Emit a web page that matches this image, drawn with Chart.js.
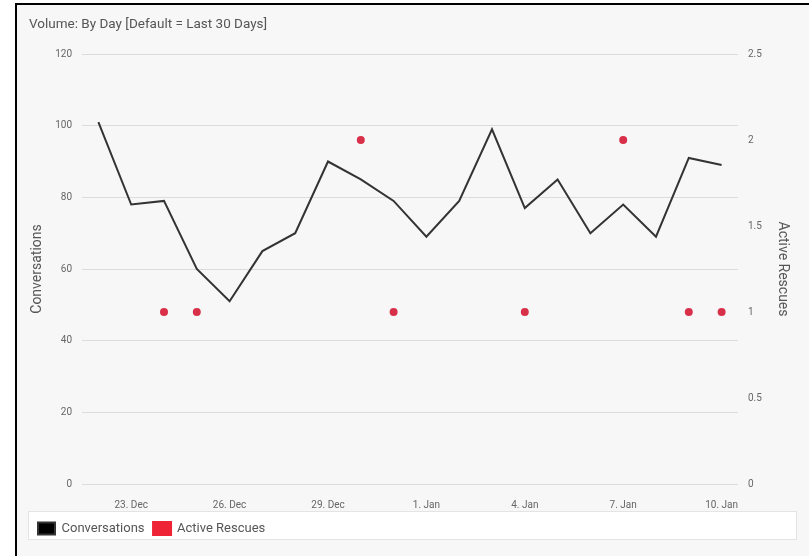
<!DOCTYPE html>
<html>
<head>
<meta charset="utf-8">
<title>Volume: By Day</title>
<script src="https://cdn.jsdelivr.net/npm/chart.js@4.4.0/dist/chart.umd.min.js"></script>
<style>
  html, body { margin: 0; padding: 0; background: #fff; }
  #panel {
    position: absolute; left: 15px; top: 3px; width: 792px; height: 553px;
    border-left: 2px solid #000; border-top: 2px solid #000; background: #f7f7f7;
  }
  #wrap { position: absolute; left: 0; top: 0; width: 809px; height: 556px; }
</style>
</head>
<body>
<div id="panel"></div>
<div id="wrap"><canvas id="volumeChart"></canvas></div>
<script>
// days shown on the x axis (one point per day)
const days = [
  '22. Dec', '23. Dec', '24. Dec', '25. Dec', '26. Dec', '27. Dec', '28. Dec',
  '29. Dec', '30. Dec', '31. Dec', '1. Jan', '2. Jan', '3. Jan', '4. Jan',
  '5. Jan', '6. Jan', '7. Jan', '8. Jan', '9. Jan', '10. Jan'
];
const conversations = [101, 78, 79, 60, 51, 65, 70, 90, 85, 79, 69, 79, 99, 77, 85, 70, 78, 69, 91, 89];
const activeRescues = [null, null, 1, 1, null, null, null, null, 2, 1, null, null, null, 1, null, null, 2, null, 1, 1];

const leftTicks = { min: 0, max: 120, step: 20 };
const rightTicks = { min: 0, max: 2.5, step: 0.5 };

Chart.defaults.font.family = 'Roboto';
Chart.defaults.color = '#666';

// white box behind the legend
const legendBox = {
  id: 'legendBox',
  beforeDraw(chart) {
    const lg = chart.legend;
    const ctx = chart.ctx;
    ctx.save();
    ctx.fillStyle = '#fff';
    ctx.strokeStyle = '#e4e4e4';
    ctx.lineWidth = 1;
    ctx.fillRect(lg.left - 1, lg.top - 2, lg.width, 28);
    ctx.strokeRect(lg.left - 0.5, lg.top - 1.5, lg.width, 28);
    ctx.restore();
  }
};

const ctx = document.getElementById('volumeChart').getContext('2d');
new Chart(ctx, {
  type: 'line',
  data: {
    labels: days,
    datasets: [
      {
        label: 'Conversations',
        data: conversations,
        yAxisID: 'y',
        borderColor: '#333',
        backgroundColor: '#000',
        borderWidth: 2,
        pointRadius: 0,
        tension: 0
      },
      {
        label: 'Active Rescues',
        data: activeRescues,
        yAxisID: 'y1',
        showLine: false,
        borderColor: '#ee2436',
        backgroundColor: '#ee2436',
        pointBackgroundColor: '#d9304a',
        pointBorderWidth: 0,
        pointRadius: 4
      }
    ]
  },
  options: {
    responsive: true,
    maintainAspectRatio: false,
    animation: false,
    layout: { padding: { left: 29, right: 12, top: 0, bottom: 11 } },
    plugins: {
      tooltip: { enabled: false },
      title: {
        display: true,
        text: 'Volume: By Day [Default = Last 30 Days]',
        align: 'start',
        color: '#555',
        font: { size: 13.5, weight: 'normal' },
        padding: { top: 17, bottom: 20.8 }
      },
      legend: {
        position: 'bottom',
        align: 'start',
        labels: {
          boxWidth: 17,
          boxHeight: 12,
          padding: 9,
          color: '#555',
          font: { size: 13 }
        }
      }
    },
    scales: {
      x: {
        offset: true,
        grid: { display: false },
        border: { display: false },
        afterFit: (s) => { s.height = 29; },
        ticks: {
          autoSkip: false,
          maxRotation: 0,
          padding: 7,
          font: { size: 10 },
          callback: (v, i) => (i % 3 === 1 ? days[i] : '')
        }
      },
      y: {
        position: 'left',
        min: leftTicks.min,
        max: leftTicks.max,
        afterFit: (s) => { s.width = 53; },
        border: { display: false },
        grid: { color: '#dcdcdc', drawTicks: false },
        ticks: { stepSize: leftTicks.step, padding: 10, font: { size: 10 } },
        title: {
          display: true,
          text: 'Conversations',
          color: '#555',
          font: { size: 14 },
          padding: { top: 0, bottom: 0 }
        }
      },
      y1: {
        position: 'right',
        min: rightTicks.min,
        max: rightTicks.max,
        afterFit: (s) => { s.width = 59; },
        border: { display: false },
        grid: { drawOnChartArea: false, drawTicks: false },
        ticks: {
          stepSize: rightTicks.step,
          padding: 10,
          font: { size: 10 },
          callback: (v) => String(v)
        },
        title: {
          display: true,
          text: 'Active Rescues',
          color: '#555',
          font: { size: 14 },
          padding: { top: 6.6, bottom: 0 }
        }
      }
    }
  },
  plugins: [legendBox]
});
</script>
</body>
</html>
